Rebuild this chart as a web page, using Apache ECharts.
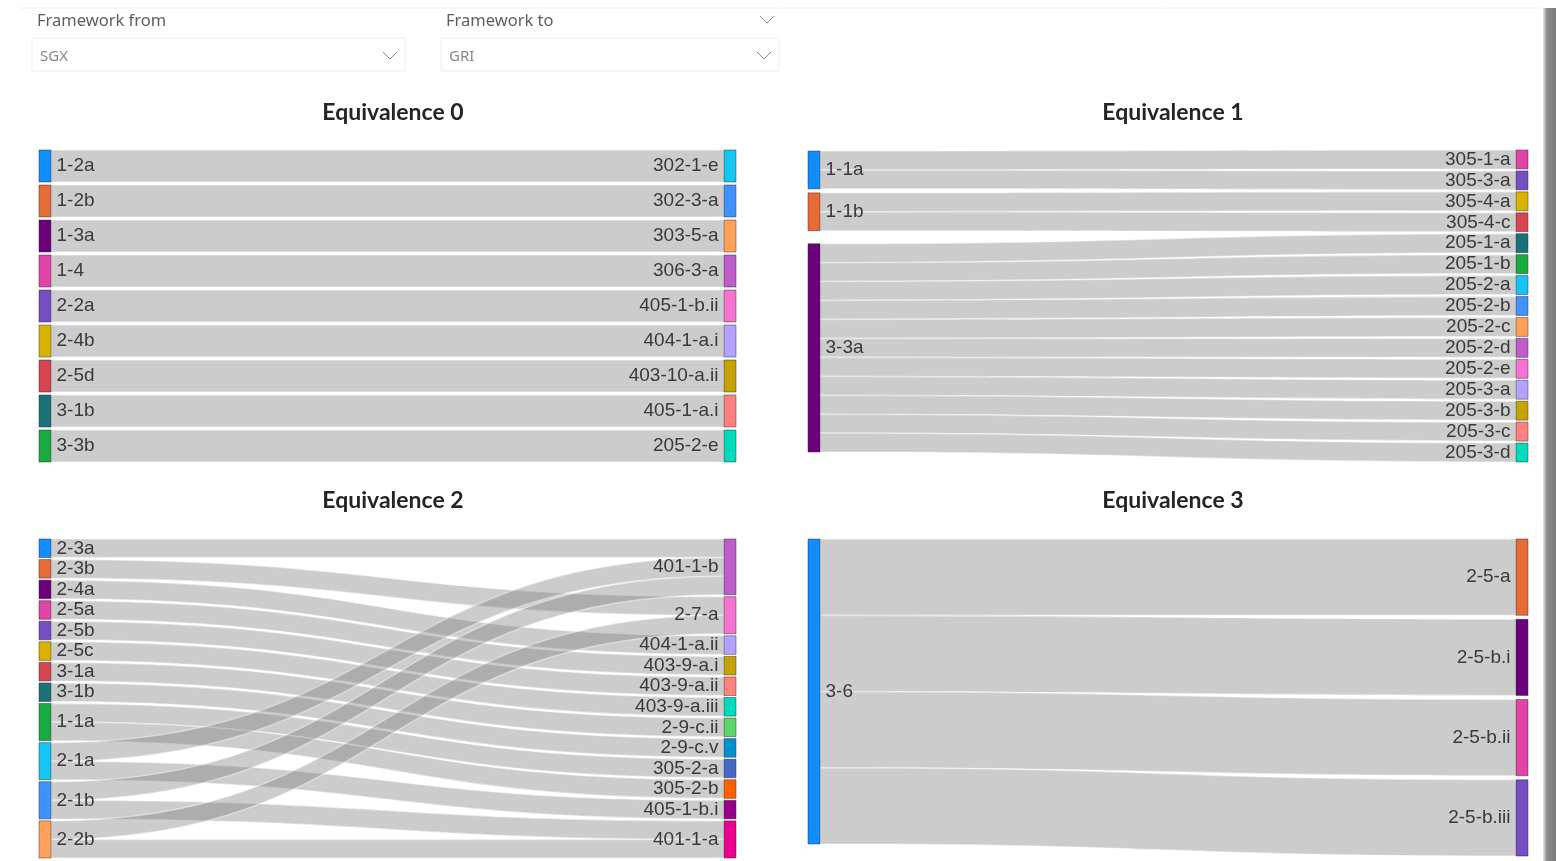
<!DOCTYPE html>
<html>
<head>
<meta charset="utf-8">
<script src="https://cdn.jsdelivr.net/npm/echarts@6/dist/echarts.min.js"></script>
<style>
  html, body { margin: 0; padding: 0; background: #fff; }
  #main { width: 1556px; height: 861px; }
</style>
</head>
<body>
<div id="main"></div>
<script>
// slicer values
var frameworkFrom = 'SGX';
var frameworkTo = 'GRI';

// Equivalence 0
var eq0Left = ['1-2a', '1-2b', '1-3a', '1-4', '2-2a', '2-4b', '2-5d', '3-1b', '3-3b'];
var eq0Right = ['302-1-e', '302-3-a', '303-5-a', '306-3-a', '405-1-b.ii', '404-1-a.i', '403-10-a.ii', '405-1-a.i', '205-2-e'];
var eq0Links = [
    ['1-2a', '302-1-e', 1], ['1-2b', '302-3-a', 1], ['1-3a', '303-5-a', 1],
    ['1-4', '306-3-a', 1], ['2-2a', '405-1-b.ii', 1], ['2-4b', '404-1-a.i', 1],
    ['2-5d', '403-10-a.ii', 1], ['3-1b', '405-1-a.i', 1], ['3-3b', '205-2-e', 1]
];

// Equivalence 1
var eq1Left = ['1-1a', '1-1b', '3-3a'];
var eq1Right = ['305-1-a', '305-3-a', '305-4-a', '305-4-c', '205-1-a', '205-1-b', '205-2-a', '205-2-b',
    '205-2-c', '205-2-d', '205-2-e', '205-3-a', '205-3-b', '205-3-c', '205-3-d'];
var eq1Links = [
    ['1-1a', '305-1-a', 1], ['1-1a', '305-3-a', 1], ['1-1b', '305-4-a', 1], ['1-1b', '305-4-c', 1],
    ['3-3a', '205-1-a', 1], ['3-3a', '205-1-b', 1], ['3-3a', '205-2-a', 1], ['3-3a', '205-2-b', 1],
    ['3-3a', '205-2-c', 1], ['3-3a', '205-2-d', 1], ['3-3a', '205-2-e', 1], ['3-3a', '205-3-a', 1],
    ['3-3a', '205-3-b', 1], ['3-3a', '205-3-c', 1], ['3-3a', '205-3-d', 1]
];

// Equivalence 2
var eq2Left = ['2-3a', '2-3b', '2-4a', '2-5a', '2-5b', '2-5c', '3-1a', '3-1b', '1-1a', '2-1a', '2-1b', '2-2b'];
var eq2Right = ['401-1-b', '2-7-a', '404-1-a.ii', '403-9-a.i', '403-9-a.ii', '403-9-a.iii', '2-9-c.ii',
    '2-9-c.v', '305-2-a', '305-2-b', '405-1-b.i', '401-1-a'];
var eq2Links = [
    ['2-3a', '401-1-b', 1], ['2-3b', '2-7-a', 1], ['2-4a', '404-1-a.ii', 1], ['2-5a', '403-9-a.i', 1],
    ['2-5b', '403-9-a.ii', 1], ['2-5c', '403-9-a.iii', 1], ['3-1a', '2-9-c.ii', 1], ['3-1b', '2-9-c.v', 1],
    ['1-1a', '305-2-a', 1], ['1-1a', '305-2-b', 1], ['2-1a', '401-1-b', 1], ['2-1a', '405-1-b.i', 1],
    ['2-1b', '401-1-b', 1], ['2-1b', '401-1-a', 1], ['2-2b', '2-7-a', 1], ['2-2b', '401-1-a', 1]
];

// Equivalence 3
var eq3Left = ['3-6'];
var eq3Right = ['2-5-a', '2-5-b.i', '2-5-b.ii', '2-5-b.iii'];
var eq3Links = [
    ['3-6', '2-5-a', 1], ['3-6', '2-5-b.i', 1], ['3-6', '2-5-b.ii', 1], ['3-6', '2-5-b.iii', 1]
];

// node colours (power bi theme order)
var palette = ['#118DFF', '#E66C37', '#6B007B', '#E044A7', '#744EC2', '#D9B300', '#D64550', '#197278',
    '#1AAB40', '#15C6F4', '#4092FF', '#FFA058', '#BE5DC9', '#F472D0', '#B5A1FF', '#C4A200', '#FF8080',
    '#00DBBC', '#5BD667', '#0091D5', '#4668C5', '#FF6300', '#99008A', '#EC008C', '#533285'];

var labelFont = 'Liberation Sans, Arial, sans-serif';

//build one sankey series
function sankey(left, right, links, box, gap, iterations) {
    var nodes = [];
    var names = left.concat(right);
    for (var i = 0; i < names.length; i++) {
        nodes.push({
            name: names[i],
            itemStyle: { color: palette[i] },
            label: { position: i < left.length ? 'right' : 'left' }
        });
    }
    var data = [];
    for (var j = 0; j < links.length; j++) {
        data.push({ source: links[j][0], target: links[j][1], value: links[j][2] });
    }
    return {
        type: 'sankey',
        left: box[0],
        top: box[1],
        width: box[2],
        height: box[3],
        nodeWidth: 12,
        nodeGap: gap,
        layoutIterations: iterations,
        draggable: false,
        silent: true,
        data: nodes,
        links: data,
        itemStyle: { borderColor: 'rgba(40,40,40,0.45)', borderWidth: 1 },
        lineStyle: { color: '#808080', opacity: 0.4, curveness: 0.5, borderColor: '#fff', borderWidth: 1.5 },
        label: { fontSize: 19, color: '#3a3a3a', fontFamily: labelFont, distance: 5 }
    };
}

function title(text, x, y) {
    return {
        type: 'text', x: x, y: y,
        style: { text: text, align: 'center', verticalAlign: 'middle', fill: '#252423',
            fontSize: 23, fontWeight: 'bold', fontFamily: 'Lato' }
    };
}

function chevron(x, y) {
    return {
        type: 'polyline',
        shape: { points: [[x, y], [x + 7, y + 7], [x + 14, y]] },
        style: { stroke: '#8a8886', lineWidth: 1, fill: null }
    };
}

function slicer(label, value, x, w, headChevron) {
    var items = [
        { type: 'text', x: x + 5, y: 21, style: { text: label, verticalAlign: 'middle', fill: '#605E5C', fontSize: 16.5, fontFamily: 'Noto Sans' } },
        { type: 'rect', shape: { x: x, y: 38, width: w, height: 33 }, style: { fill: '#fff', stroke: '#ececec', lineWidth: 1 } },
        { type: 'text', x: x + 8, y: 57, style: { text: value, verticalAlign: 'middle', fill: '#8a8886', fontSize: 15, fontFamily: 'Noto Sans' } },
        chevron(x + w - 22, 52)
    ];
    if (headChevron) {
        items.push(chevron(x + w - 19, 16));
    }
    return items;
}

var graphics = [
    { type: 'line', shape: { x1: 20, y1: 8, x2: 1543, y2: 8 }, style: { stroke: '#eeeeee', lineWidth: 1 } },
    {
        type: 'rect', shape: { x: 1543, y: 8, width: 13, height: 853 },
        style: {
            fill: new echarts.graphic.LinearGradient(0, 0, 1, 0, [
                { offset: 0, color: '#e6e6e6' }, { offset: 0.3, color: '#8c8c8c' }, { offset: 1, color: '#7a7a7a' }
            ])
        }
    },
    title('Equivalence 0', 393, 113),
    title('Equivalence 1', 1173, 113),
    title('Equivalence 2', 393, 501),
    title('Equivalence 3', 1173, 501)
].concat(slicer('Framework from', frameworkFrom, 32, 373, false))
 .concat(slicer('Framework to', frameworkTo, 441, 338, true));

var myChart = echarts.init(document.getElementById('main'));
var option = {
    animation: false,
    backgroundColor: '#fff',
    graphic: graphics,
    series: [
        sankey(eq0Left, eq0Right, eq0Links, [39, 150, 697, 312], 3, 0),
        sankey(eq1Left, eq1Right, eq1Links, [808, 150, 720, 312], 2, 32),
        sankey(eq2Left, eq2Right, eq2Links, [39, 539, 697, 319], 2, 0),
        sankey(eq3Left, eq3Right, eq3Links, [808, 539, 720, 317], 4, 0)
    ]
};
myChart.setOption(option);
</script>
</body>
</html>
